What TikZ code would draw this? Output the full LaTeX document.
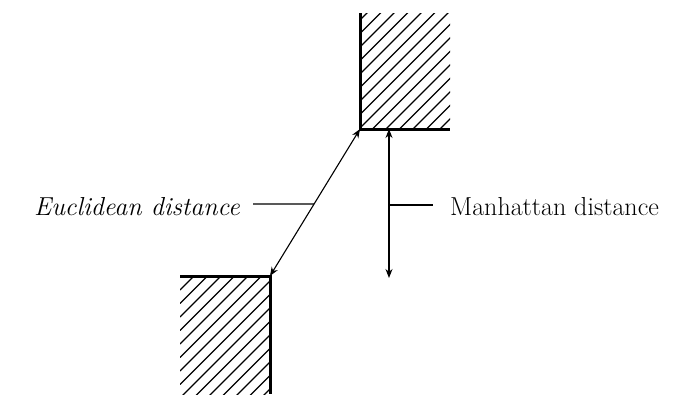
\documentclass[tikz,border=0pt]{standalone}
\usetikzlibrary{arrows.meta,calc}
\begin{document}
\begin{tikzpicture}[x=1pt,y=-1pt,
  wall/.style={line width=3pt},
  hatch/.style={line width=1.1pt},
  conn/.style={line width=1.1pt},
  dim/.style={line width=1.1pt,{Stealth[length=9pt,width=7pt]}-{Stealth[length=9pt,width=7pt]}},
  lab/.style={inner sep=0pt,font=\fontsize{26}{30}\selectfont}]
\useasboundingbox (0,0) rectangle (683,394);
% corners
\coordinate (uTop) at (360,13);
\coordinate (uCorner) at (360,129);
\coordinate (uRight) at (450,129);
\coordinate (lLeft) at (180,276);
\coordinate (lCorner) at (270,276);
\coordinate (lBottom) at (270,394);
% hatching upper block
\begin{scope}
  \clip (360,13) rectangle (450,129);
  \foreach \k in {0,...,17}{
    \draw[hatch] (360,{20+13.5*\k}) -- ++(200,-200);
  }
\end{scope}
% hatching lower block
\begin{scope}
  \clip (180,276) rectangle (270,394);
  \foreach \k in {0,...,17}{
    \draw[hatch] (180,{290+13.5*\k}) -- ++(200,-200);
  }
\end{scope}
\draw[wall] (uTop) -- (uCorner) -- (uRight);
\draw[wall] (lLeft) -- (lCorner) -- (lBottom);
% Euclidean
\draw[dim] (lCorner) -- (uCorner);
\coordinate (eMid) at ($(lCorner)!0.49!(uCorner)$);
\node[lab,anchor=base east] (euc) at (240,215) {\itshape Euclidean distance};
\coordinate (eStart) at (253,204);
\draw[conn] (eStart) -- (eMid);
% Manhattan
\coordinate (mTop) at (389,129);
\coordinate (mBot) at (389,278);
\draw[dim] (mBot) -- (mTop);
\coordinate (mMid) at (389,205);
\coordinate (mEnd) at (433,205);
\draw[conn] (mMid) -- (mEnd);
\node[lab,anchor=base west] (man) at (450,215) {Manhattan distance};
\end{tikzpicture}
\end{document}
